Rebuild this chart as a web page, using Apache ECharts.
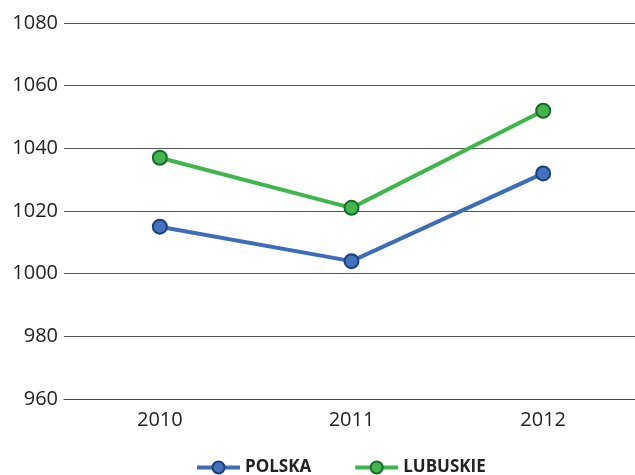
<!DOCTYPE html>
<html><head><meta charset="utf-8">
<script src="https://cdn.jsdelivr.net/npm/echarts@6/dist/echarts.min.js"></script>
<style>html,body{margin:0;padding:0;background:#fff}#c{width:635px;height:475px}</style>
</head><body><div id="c"></div>
<script>
const categories = ['2010', '2011', '2012'];
const polska = [1015, 1004, 1032];
const lubuskie = [1037, 1021, 1052];
const yTicks = [960, 980, 1000, 1020, 1040, 1060, 1080];

const chart = echarts.init(document.getElementById('c'));
const font = '"Open Sans", "Noto Sans", sans-serif';
chart.setOption({
  animation: false,
  grid: { left: 64, width: 575, top: 23, bottom: 76, outerBoundsMode: 'none', containLabel: false },
  xAxis: {
    type: 'category', data: categories, boundaryGap: true,
    axisLine: { show: true, lineStyle: { color: '#444', width: 1 } },
    axisTick: { show: false },
    axisLabel: { color: '#222', fontSize: 20, fontFamily: font, margin: 11 }
  },
  yAxis: {
    type: 'value', min: yTicks[0], max: yTicks[yTicks.length - 1], interval: 20,
    axisLine: { show: false }, axisTick: { show: false },
    axisLabel: { color: '#222', fontSize: 20, fontFamily: font, margin: 6, formatter: v => String(v) },
    splitLine: { lineStyle: { color: '#555', width: 1 } }
  },
  legend: {
    top: 454, left: 190, itemWidth: 43, itemHeight: 15, itemGap: 42,
    lineStyle: { width: 4 },
    textStyle: { color: '#222', fontSize: 17, fontWeight: 'bold', fontFamily: font },
    data: ['POLSKA', 'LUBUSKIE']
  },
  series: [
    { name: 'POLSKA', type: 'line', data: polska, symbol: 'circle', symbolSize: 14,
      lineStyle: { color: '#3d6db8', width: 4 },
      itemStyle: { color: '#4471bd', borderColor: '#1b3f78', borderWidth: 2 } },
    { name: 'LUBUSKIE', type: 'line', data: lubuskie, symbol: 'circle', symbolSize: 14,
      lineStyle: { color: '#3fb64b', width: 4 },
      itemStyle: { color: '#42b54f', borderColor: '#1b6a2c', borderWidth: 2 } }
  ]
});
</script></body></html>
